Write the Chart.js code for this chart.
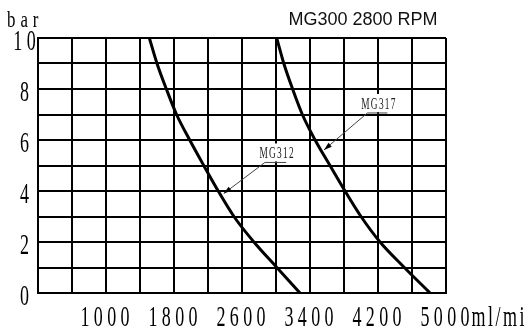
<!DOCTYPE html>
<html>
<head>
<meta charset="utf-8">
<script src="https://cdn.jsdelivr.net/npm/chart.js@4/dist/chart.umd.min.js"></script>
<style>
  body { margin: 0; background: #fff; }
</style>
</head>
<body>
<canvas id="myChart" width="530" height="333"></canvas>
<script>
// Données : pression (bar) et débit (ml/min) pour chaque pompe
var pressureBar = [10, 9, 8, 7, 6, 5, 4, 3, 2, 1, 0];
var flowMG312 = [1510, 1600, 1710, 1830, 1985, 2150, 2320, 2505, 2740, 3010, 3282];
var flowMG317 = [3008, 3092, 3195, 3310, 3460, 3635, 3812, 4000, 4224, 4510, 4812];
var seriesNames = ['MG312', 'MG317'];

// Graduations affichées
var xTickLabels = [1000, 1800, 2600, 3400, 4200, 5000];
var yTickLabels = [0, 2, 4, 6, 8, 10];
var xUnit = 'ml/mi';
var yUnit = 'bar';
var chartTitle = 'MG300 2800 RPM';

// Repères des étiquettes (en unités des axes)
var callouts = [
    { from: [2870, 5.12], to: [3120, 5.12], tip: [2385, 3.9] },
    { from: [4075, 7.06], to: [4310, 7.06], tip: [3565, 5.61] }
];

function toPoints(xs, ys) {
    var pts = [];
    for (var i = 0; i < xs.length; i++) {
        pts.push({ x: xs[i], y: ys[i] });
    }
    return pts;
}

// Dessine un texte "étroit" lettre par lettre (police condensée avec espacement)
function drawNarrow(ctx, text, x, y, font, sx, gap, measureOnly) {
    ctx.save();
    ctx.font = font;
    ctx.textAlign = 'left';
    ctx.textBaseline = 'alphabetic';
    var cx = x;
    for (var i = 0; i < text.length; i++) {
        var ch = text[i];
        var w = ctx.measureText(ch).width * sx;
        if (!measureOnly) {
            ctx.save();
            ctx.translate(cx, y);
            ctx.scale(sx, 1);
            ctx.fillText(ch, 0, 0);
            ctx.restore();
        }
        cx += w + gap;
    }
    ctx.restore();
    return cx - x - gap;
}

var tickFont = '29px "Liberation Serif"';
var tickSx = 0.62;
var tickGap = 4.3;

var labelsPlugin = {
    id: 'labelsPlugin',
    afterDraw: function (chart) {
        var ctx = chart.ctx;
        var xs = chart.scales.x;
        var ys = chart.scales.y;
        var area = chart.chartArea;
        ctx.save();
        ctx.fillStyle = '#000';

        // graduations de l'axe x
        xTickLabels.forEach(function (v, i) {
            var t = String(v);
            var w = drawNarrow(ctx, t, 0, 0, tickFont, tickSx, tickGap, true);
            var px = xs.getPixelForValue(v) - 1 - w / 2;
            var end = px + drawNarrow(ctx, t, px, area.bottom + 33, tickFont, tickSx, tickGap);
            if (i === xTickLabels.length - 1) {
                drawNarrow(ctx, xUnit, end + 2, area.bottom + 33, tickFont, tickSx, 2.5);
            }
        });

        // graduations de l'axe y
        yTickLabels.forEach(function (v) {
            var t = String(v);
            var w = drawNarrow(ctx, t, 0, 0, tickFont, tickSx, tickGap, true);
            var py = ys.getPixelForValue(v);
            drawNarrow(ctx, t, 24.5 - w / 2, py + 12, tickFont, tickSx, tickGap);
        });

        // unité de l'axe y
        drawNarrow(ctx, yUnit, 7, 27, '24px "Liberation Serif"', 0.7, 5);

        // titre
        ctx.font = '18px "Liberation Sans"';
        ctx.fillStyle = '#111';
        ctx.textAlign = 'center';
        ctx.textBaseline = 'alphabetic';
        ctx.fillText(chartTitle, 363, 25);

        // étiquettes des courbes avec flèche
        callouts.forEach(function (c, i) {
            var x0 = xs.getPixelForValue(c.from[0]), y0 = ys.getPixelForValue(c.from[1]);
            var x1 = xs.getPixelForValue(c.to[0]);
            var tx = xs.getPixelForValue(c.tip[0]), ty = ys.getPixelForValue(c.tip[1]);

            // texte sur fond blanc
            var name = chart.data.datasets[i].label;
            var lf = '17px "Liberation Serif"';
            var w = drawNarrow(ctx, name, 0, 0, lf, 0.55, 1.3, true);
            var lx = (x0 + x1) / 2 + 1 - w / 2;
            ctx.fillStyle = '#fff';
            ctx.fillRect(lx - 2, y0 - 19, w + 4, 18);
            ctx.fillStyle = '#222';
            drawNarrow(ctx, name, lx, y0 - 4, lf, 0.55, 1.3);

            ctx.strokeStyle = '#444';
            ctx.lineWidth = 1;
            ctx.beginPath();
            ctx.moveTo(x1, y0);
            ctx.lineTo(x0, y0);
            ctx.lineTo(tx, ty);
            ctx.stroke();

            // pointe de flèche
            var ang = Math.atan2(ty - y0, tx - x0);
            ctx.fillStyle = '#000';
            ctx.beginPath();
            ctx.moveTo(tx, ty);
            ctx.lineTo(tx - 8 * Math.cos(ang) + 2.5 * Math.sin(ang), ty - 8 * Math.sin(ang) - 2.5 * Math.cos(ang));
            ctx.lineTo(tx - 8 * Math.cos(ang) - 2.5 * Math.sin(ang), ty - 8 * Math.sin(ang) + 2.5 * Math.cos(ang));
            ctx.closePath();
            ctx.fill();
        });

        ctx.restore();
    }
};

var ctx = document.getElementById('myChart').getContext('2d');
var myChart = new Chart(ctx, {
    type: 'scatter',
    data: {
        datasets: [{
            label: seriesNames[0],
            data: toPoints(flowMG312, pressureBar),
            showLine: true,
            borderColor: '#000',
            borderWidth: 3,
            pointRadius: 0,
            cubicInterpolationMode: 'monotone'
        }, {
            label: seriesNames[1],
            data: toPoints(flowMG317, pressureBar),
            showLine: true,
            borderColor: '#000',
            borderWidth: 3,
            pointRadius: 0,
            cubicInterpolationMode: 'monotone'
        }]
    },
    options: {
        responsive: false,
        animation: false,
        devicePixelRatio: 1,
        layout: {
            padding: { left: 38, top: 38, right: 84, bottom: 40 }
        },
        plugins: {
            legend: { display: false },
            tooltip: { enabled: false }
        },
        scales: {
            x: {
                type: 'linear',
                min: 200,
                max: 5000,
                ticks: { display: false, stepSize: 400 },
                grid: { color: '#000', lineWidth: 2, drawTicks: false },
                border: { color: '#000', width: 2 },
                afterFit: function (s) { s.height = 0; }
            },
            y: {
                min: 0,
                max: 10,
                ticks: { display: false, stepSize: 1 },
                grid: { color: '#000', lineWidth: 2, drawTicks: false },
                border: { color: '#000', width: 2 },
                afterFit: function (s) { s.width = 0; }
            }
        }
    },
    plugins: [labelsPlugin]
});
</script>
</body>
</html>
